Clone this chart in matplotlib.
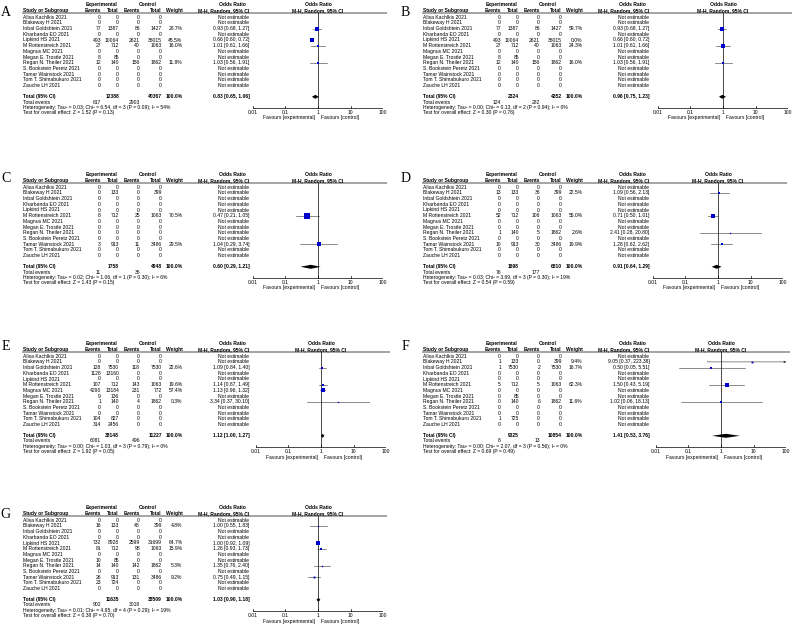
import matplotlib
matplotlib.use("Agg")
import matplotlib.pyplot as plt

plt.rcParams['font.family'] = ['Liberation Sans', 'DejaVu Sans']

W, H = 795, 637          # figure size in pixels
PW, PH = 395, 125        # size of one panel in pixels
FS = 3.6                 # table font size (pt)

studies = ["Alisa Kachlkis 2021", "Blakeway H 2021", "Inbal Goldshtein 2021",
           "Kharbanda EO 2021", "Lipkind HS 2021", "M Rottenstreich 2021",
           "Magnus MC 2021", "Megan E. Trostle 2021", "Regan N. Theiler 2021",
           "S. Bookstein Peretz 2021", "Tamar Wainstock 2021",
           "Tom T. Shimabukuro 2021", "Zauche LH 2021"]

tick_values = [0.01, 0.1, 1, 10, 100]
tick_labels = ["0.01", "0.1", "1", "10", "100"]

# ---- A
a_exp_events = [0, 0, 77, 0, 493, 27, 0, 8, 12, 0, 0, 0, 0]
a_exp_total = [0, 0, 1387, 0, 10064, 712, 0, 85, 140, 0, 0, 0, 0]
a_ctrl_events = [0, 0, 86, 0, 2621, 40, 0, 0, 156, 0, 0, 0, 0]
a_ctrl_total = [0, 0, 1427, 0, 36015, 1063, 0, 0, 1862, 0, 0, 0, 0]
a_rows = [2, 4, 5, 8]
a_weight = [28.7, 45.5, 16.0, 11.8]
a_or = [0.93, 0.66, 1.01, 1.03]
a_lo = [0.68, 0.60, 0.61, 0.56]
a_hi = [1.27, 0.72, 1.66, 1.91]
a_totals = [12388, 40367]
a_events = [617, 2903]
a_pooled = [0.83, 0.65, 1.06]
a_het = "Heterogeneity: Tau² = 0.03; Chi² = 6.54, df = 3 (P = 0.09); I² = 54%"
a_test = "Test for overall effect: Z = 1.52 (P = 0.13)"

# ---- B
b_exp_events = [0, 0, 77, 0, 493, 27, 0, 8, 12, 0, 0, 0, 0]
b_exp_total = [0, 0, 1387, 0, 10064, 712, 0, 85, 140, 0, 0, 0, 0]
b_ctrl_events = [0, 0, 86, 0, 2621, 40, 0, 0, 156, 0, 0, 0, 0]
b_ctrl_total = [0, 0, 1427, 0, 36015, 1063, 0, 0, 1862, 0, 0, 0, 0]
b_rows = [2, 4, 5, 8]
b_weight = [59.7, 0.0, 24.3, 16.0]
b_or = [0.93, 0.66, 1.01, 1.03]
b_lo = [0.68, 0.60, 0.61, 0.56]
b_hi = [1.27, 0.72, 1.66, 1.91]
b_totals = [2324, 4352]
b_events = [124, 282]
b_pooled = [0.96, 0.75, 1.23]
b_het = "Heterogeneity: Tau² = 0.00; Chi² = 0.13, df = 2 (P = 0.94); I² = 0%"
b_test = "Test for overall effect: Z = 0.30 (P = 0.76)"

# ---- C
c_exp_events = [0, 0, 0, 0, 0, 8, 0, 0, 0, 0, 3, 0, 0]
c_exp_total = [0, 133, 0, 0, 0, 712, 0, 0, 0, 0, 913, 0, 0]
c_ctrl_events = [0, 0, 0, 0, 0, 25, 0, 0, 0, 0, 11, 0, 0]
c_ctrl_total = [0, 399, 0, 0, 0, 1063, 0, 0, 0, 0, 3486, 0, 0]
c_rows = [5, 10]
c_weight = [70.5, 29.5]
c_or = [0.47, 1.04]
c_lo = [0.21, 0.29]
c_hi = [1.05, 3.74]
c_totals = [1758, 4948]
c_events = [11, 36]
c_pooled = [0.60, 0.29, 1.21]
c_het = "Heterogeneity: Tau² = 0.02; Chi² = 1.06, df = 1 (P = 0.30); I² = 6%"
c_test = "Test for overall effect: Z = 1.43 (P = 0.15)"

# ---- D
d_exp_events = [0, 13, 0, 0, 0, 52, 0, 0, 1, 0, 10, 0, 0]
d_exp_total = [0, 133, 0, 0, 0, 712, 0, 0, 140, 0, 913, 0, 0]
d_ctrl_events = [0, 36, 0, 0, 0, 106, 0, 0, 5, 0, 30, 0, 0]
d_ctrl_total = [0, 399, 0, 0, 0, 1063, 0, 0, 1862, 0, 3486, 0, 0]
d_rows = [1, 5, 8, 10]
d_weight = [22.5, 55.0, 2.6, 19.9]
d_or = [1.09, 0.71, 2.41, 1.28]
d_lo = [0.56, 0.50, 0.28, 0.62]
d_hi = [2.13, 1.01, 20.80, 2.62]
d_totals = [1898, 6810]
d_events = [76, 177]
d_pooled = [0.91, 0.64, 1.29]
d_het = "Heterogeneity: Tau² = 0.03; Chi² = 3.69, df = 3 (P = 0.30); I² = 19%"
d_test = "Test for overall effect: Z = 0.54 (P = 0.59)"

# ---- E
e_exp_events = [0, 0, 128, 1128, 0, 107, 4290, 9, 1, 0, 0, 104, 314]
e_exp_total = [0, 0, 7530, 13160, 0, 712, 13184, 136, 140, 0, 0, 827, 2456]
e_ctrl_events = [0, 0, 118, 0, 0, 143, 231, 0, 4, 0, 0, 0, 0]
e_ctrl_total = [0, 0, 7530, 0, 0, 1063, 772, 0, 1862, 0, 0, 0, 0]
e_rows = [2, 5, 6, 8]
e_weight = [22.6, 19.6, 57.4, 0.3]
e_or = [1.09, 1.14, 1.13, 3.34]
e_lo = [0.84, 0.87, 0.96, 0.37]
e_hi = [1.40, 1.49, 1.32, 30.10]
e_totals = [38148, 11227]
e_events = [6081, 496]
e_pooled = [1.12, 1.00, 1.27]
e_het = "Heterogeneity: Tau² = 0.00; Chi² = 1.03, df = 3 (P = 0.79); I² = 0%"
e_test = "Test for overall effect: Z = 1.92 (P = 0.05)"

# ---- F
f_exp_events = [0, 1, 1, 0, 0, 5, 0, 0, 0, 0, 0, 1, 0]
f_exp_total = [0, 133, 7530, 0, 0, 712, 0, 85, 140, 0, 0, 725, 0]
f_ctrl_events = [0, 0, 2, 0, 0, 5, 0, 0, 6, 0, 0, 0, 0]
f_ctrl_total = [0, 399, 7530, 0, 0, 1063, 0, 0, 1862, 0, 0, 0, 0]
f_rows = [1, 2, 5, 8]
f_weight = [9.4, 16.7, 62.3, 11.6]
f_or = [9.05, 0.50, 1.50, 1.02]
f_lo = [0.37, 0.05, 0.43, 0.06]
f_hi = [223.38, 5.51, 5.19, 18.13]
f_totals = [9325, 10854]
f_events = [8, 13]
f_pooled = [1.41, 0.53, 3.76]
f_het = "Heterogeneity: Tau² = 0.00; Chi² = 2.07, df = 3 (P = 0.56); I² = 0%"
f_test = "Test for overall effect: Z = 0.69 (P = 0.49)"

# ---- G
g_exp_events = [0, 16, 0, 0, 732, 81, 0, 10, 14, 0, 26, 23, 0]
g_exp_total = [0, 133, 0, 0, 8928, 712, 0, 85, 140, 0, 913, 724, 0]
g_ctrl_events = [0, 48, 0, 0, 2599, 98, 0, 0, 142, 0, 131, 0, 0]
g_ctrl_total = [0, 399, 0, 0, 31699, 1063, 0, 0, 1862, 0, 3486, 0, 0]
g_rows = [1, 4, 5, 8, 10]
g_weight = [4.8, 64.7, 15.9, 5.3, 9.2]
g_or = [1.00, 1.00, 1.26, 1.35, 0.75]
g_lo = [0.55, 0.92, 0.93, 0.76, 0.49]
g_hi = [1.83, 1.09, 1.73, 2.40, 1.15]
g_totals = [11635, 38509]
g_events = [902, 3018]
g_pooled = [1.03, 0.90, 1.18]
g_het = "Heterogeneity: Tau² = 0.01; Chi² = 4.95, df = 4 (P = 0.29); I² = 19%"
g_test = "Test for overall effect: Z = 0.38 (P = 0.70)"

# column right edges (panel pixels): events, total, events, total, weight, OR
std_cols = [101, 119, 140, 162, 182.5, 249.5]

panels = [
    dict(letter="A", x0=0, y0=0, ly=13, dx=0, cols=std_cols,
         data=(a_exp_events, a_exp_total, a_ctrl_events, a_ctrl_total),
         rows=a_rows, w=a_weight, est=(a_or, a_lo, a_hi), totals=a_totals,
         events=a_events, pooled=a_pooled, het=a_het, test=a_test),
    dict(letter="B", x0=400, y0=0, ly=13, dx=5, cols=std_cols,
         data=(b_exp_events, b_exp_total, b_ctrl_events, b_ctrl_total),
         rows=b_rows, w=b_weight, est=(b_or, b_lo, b_hi), totals=b_totals,
         events=b_events, pooled=b_pooled, het=b_het, test=b_test),
    dict(letter="C", x0=0, y0=170, ly=9, dx=0, cols=std_cols,
         data=(c_exp_events, c_exp_total, c_ctrl_events, c_ctrl_total),
         rows=c_rows, w=c_weight, est=(c_or, c_lo, c_hi), totals=c_totals,
         events=c_events, pooled=c_pooled, het=c_het, test=c_test),
    dict(letter="D", x0=400, y0=170, ly=9, dx=0, cols=std_cols,
         data=(d_exp_events, d_exp_total, d_ctrl_events, d_ctrl_total),
         rows=d_rows, w=d_weight, est=(d_or, d_lo, d_hi), totals=d_totals,
         events=d_events, pooled=d_pooled, het=d_het, test=d_test),
    dict(letter="E", x0=0, y0=339, ly=7, dx=3, cols=std_cols,
         data=(e_exp_events, e_exp_total, e_ctrl_events, e_ctrl_total),
         rows=e_rows, w=e_weight, est=(e_or, e_lo, e_hi), totals=e_totals,
         events=e_events, pooled=e_pooled, het=e_het, test=e_test),
    dict(letter="F", x0=400, y0=339, ly=7, dx=3, cols=std_cols,
         data=(f_exp_events, f_exp_total, f_ctrl_events, f_ctrl_total),
         rows=f_rows, w=f_weight, est=(f_or, f_lo, f_hi), totals=f_totals,
         events=f_events, pooled=f_pooled, het=f_het, test=f_test),
    dict(letter="G", x0=0, y0=503, ly=11, dx=0, cols=std_cols,
         data=(g_exp_events, g_exp_total, g_ctrl_events, g_ctrl_total),
         rows=g_rows, w=g_weight, est=(g_or, g_lo, g_hi), totals=g_totals,
         events=g_events, pooled=g_pooled, het=g_het, test=g_test),
]

Y_H1, Y_H2, Y_LINE = 4.2, 10.6, 13.2
ROW0, DY = 17.2, 5.7
Y_TOTAL, Y_EVENTS, Y_HET, Y_TEST = 96.8, 102.0, 107.3, 112.6
Y_AXIS, Y_TICK, Y_FAV = 107.8, 112.8, 118.0


def txt(ax, x, y, s, ha="left", bold=False, size=FS):
    ax.text(x, y, s, ha=ha, va="center", fontsize=size,
            fontweight="bold" if bold else "normal", clip_on=False)


def fmt_or(o, l, h):
    return f"{o:.2f} [{l:.2f}, {h:.2f}]"


fig = plt.figure(figsize=(W / 100, H / 100), dpi=100)
fig.patch.set_facecolor("white")

for p in panels:
    x0, y0, dx = p["x0"], p["y0"], p["dx"]
    tab = fig.add_axes([x0 / W, 1 - (y0 + PH) / H, PW / W, PH / H])
    tab.set_xlim(0, PW)
    tab.set_ylim(PH, 0)
    tab.axis("off")
    fa = fig.add_axes([(x0 + dx + 252.7) / W, 1 - (y0 + PH) / H, 130.6 / W, PH / H])
    fa.set_xscale("log")
    fa.set_xlim(0.01, 100)
    fa.set_ylim(PH, 0)
    fa.axis("off")

    ee, te, ec, tc, wc, oc = p["cols"]
    name_x = 22.7

    # panel letter
    tab.text(5.5, p["ly"], p["letter"], ha="center", va="center", fontsize=10,
             family="Liberation Serif")

    # headers
    txt(tab, te - 17, Y_H1, "Experimental", ha="center", bold=True)
    txt(tab, tc - 14, Y_H1, "Control", ha="center", bold=True)
    txt(tab, oc - 17, Y_H1, "Odds Ratio", ha="center", bold=True)
    txt(tab, name_x, Y_H2, "Study or Subgroup", bold=True)
    for x, s in zip([ee, te, ec, tc, wc, oc],
                    ["Events", "Total", "Events", "Total", "Weight", "M-H, Random, 95% CI"]):
        txt(tab, x, Y_H2, s, ha="right", bold=True)
    tab.plot([22, 387 + dx], [Y_LINE, Y_LINE], color="#8c8c8c", lw=1.1,
             solid_capstyle="butt")
    txt(fa, 1, Y_H1, "Odds Ratio", ha="center", bold=True)
    txt(fa, 1, Y_H2, "M-H, Random, 95% CI", ha="center", bold=True)

    # study rows
    exp_ev, exp_tot, ctl_ev, ctl_tot = p["data"]
    odds, lo, hi = p["est"]
    for i, name in enumerate(studies):
        y = ROW0 + i * DY
        txt(tab, name_x, y, name)
        for x, v in zip([ee, te, ec, tc], [exp_ev[i], exp_tot[i], ctl_ev[i], ctl_tot[i]]):
            txt(tab, x, y, str(v), ha="right")
        if i in p["rows"]:
            k = p["rows"].index(i)
            txt(tab, wc, y, f"{p['w'][k]:.1f}%", ha="right")
            txt(tab, oc, y, fmt_or(odds[k], lo[k], hi[k]), ha="right")
        else:
            txt(tab, oc, y, "Not estimable", ha="right")

    # totals
    txt(tab, name_x, Y_TOTAL, "Total (95% CI)", bold=True)
    txt(tab, te, Y_TOTAL, str(p["totals"][0]), ha="right", bold=True)
    txt(tab, tc, Y_TOTAL, str(p["totals"][1]), ha="right", bold=True)
    txt(tab, wc, Y_TOTAL, "100.0%", ha="right", bold=True)
    txt(tab, oc, Y_TOTAL, fmt_or(*p["pooled"]), ha="right", bold=True)
    txt(tab, name_x, Y_EVENTS, "Total events")
    txt(tab, ee, Y_EVENTS, str(p["events"][0]), ha="right")
    txt(tab, ec, Y_EVENTS, str(p["events"][1]), ha="right")
    txt(tab, name_x, Y_HET, p["het"])
    txt(tab, name_x, Y_TEST, p["test"])

    # forest plot
    fa.plot([1, 1], [Y_LINE, Y_AXIS], color="black", lw=0.5)
    fa.plot([0.01, 100], [Y_AXIS, Y_AXIS], color="black", lw=0.5)
    for v, lab in zip(tick_values, tick_labels):
        fa.plot([v, v], [Y_AXIS - 1.6, Y_AXIS], color="black", lw=0.5)
        txt(fa, v, Y_TICK, lab, ha="center")
    txt(fa, 0.83, Y_FAV, "Favours [experimental]", ha="right")
    txt(fa, 1.2, Y_FAV, "Favours [control]", ha="left")

    for k, i in enumerate(p["rows"]):
        if p["w"][k] <= 0:
            continue
        y = ROW0 + i * DY
        if hi[k] > 100:
            fa.annotate("", xy=(100, y), xytext=(lo[k], y),
                        arrowprops=dict(arrowstyle="-|>", lw=0.4, color="#333333",
                                        mutation_scale=3, shrinkA=0, shrinkB=0))
        else:
            fa.plot([lo[k], hi[k]], [y, y], color="#333333", lw=0.4)
        side = max(0.62 * p["w"][k] ** 0.5, 1.3)
        fa.plot([odds[k]], [y], marker="s", ms=side * 0.72, color="#0000cc",
                mec="#0000cc", mew=0)

    po, pl, ph = p["pooled"]
    hh = 2.0
    fa.fill([pl, po, ph, po], [Y_TOTAL, Y_TOTAL - hh, Y_TOTAL, Y_TOTAL + hh],
            color="black", lw=0)

fig.savefig("out.png", dpi=100, facecolor="white")
